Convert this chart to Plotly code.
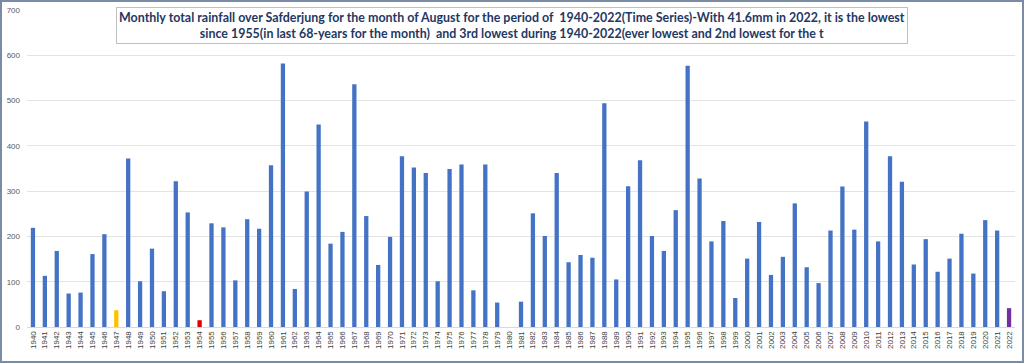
import plotly.graph_objects as go

years = [str(y) for y in range(1940, 2023)]
rainfall = [
    219, 113, 168, 74, 76, 161, 205, 37, 372, 101,
    173, 79, 322, 253, 15, 229, 220, 103, 238, 217,
    357, 582, 84, 299, 447, 184, 210, 536, 245, 137,
    199, 377, 352, 340, 101, 349, 359, 81, 359, 54,
    0, 56, 251, 201, 340, 143, 159, 153, 494, 105,
    311, 368, 201, 168, 258, 577, 328, 189, 234, 64,
    151, 232, 115, 155, 273, 132, 97, 213, 310, 215,
    454, 189, 377, 321, 138, 194, 122, 151, 206, 118,
    236, 213, 41.6,
]
highlight = {"1947": "#FFC000", "1954": "#E00000", "2022": "#7030A0"}
colors = [highlight.get(y, "#4472C4") for y in years]

title_text = ("Monthly total rainfall over Safderjung for the month of August for the period of  "
              "1940-2022(Time Series)-With 41.6mm in 2022, it is the lowest<br>"
              "since 1955(in last 68-years for the month)  and 3rd lowest during "
              "1940-2022(ever lowest and 2nd lowest for the t")

W, H = 1024, 363
L, R, T, B = 27, 9, 10, 36
pw, ph = W - L - R, H - T - B

fig = go.Figure(go.Bar(x=years, y=rainfall, marker=dict(color=colors, line=dict(width=0)),
                       width=0.36))

fig.update_layout(
    width=W, height=H,
    margin=dict(l=L, r=R, t=T, b=B, autoexpand=False),
    paper_bgcolor="white", plot_bgcolor="white",
    showlegend=False,
    xaxis=dict(type="category", tickangle=-90, tickfont=dict(size=8, color="#404040", family="Liberation Sans"),
               showgrid=False, showline=True, linecolor="#D9D9D9", ticks="", range=[-0.5, 82.5],
               automargin=False),
    yaxis=dict(range=[0, 700], dtick=100, tickfont=dict(size=8, color="#595959", family="Liberation Sans"),
               showgrid=True, gridcolor="#E3E3E3", gridwidth=1, zeroline=False, showline=False,
               ticklabelstandoff=6, automargin=False),
    annotations=[dict(
        text=title_text, xref="paper", yref="paper",
        x=((113 + 910) / 2 - L) / pw, y=1 + (T - 7) / ph, showarrow=False,
        font=dict(family="Lato", size=12.45, color="#1F3864", weight="bold"),
        align="center", bgcolor="white", bordercolor="#BFBFBF", borderwidth=1, borderpad=2,
        xanchor="center", yanchor="top",
    )],
    shapes=[dict(type="rect", xref="paper", yref="paper",
                 x0=-(L - 1) / pw, x1=1 + (R - 1) / pw, y0=-(B - 1) / ph, y1=1 + (T - 1) / ph,
                 line=dict(color="#7A8BA6", width=2), fillcolor="rgba(0,0,0,0)", layer="above")],
)

fig.write_html("out.html", config={"displayModeBar": False},
               post_script="document.body.style.margin='0';document.body.style.overflow='hidden';")
